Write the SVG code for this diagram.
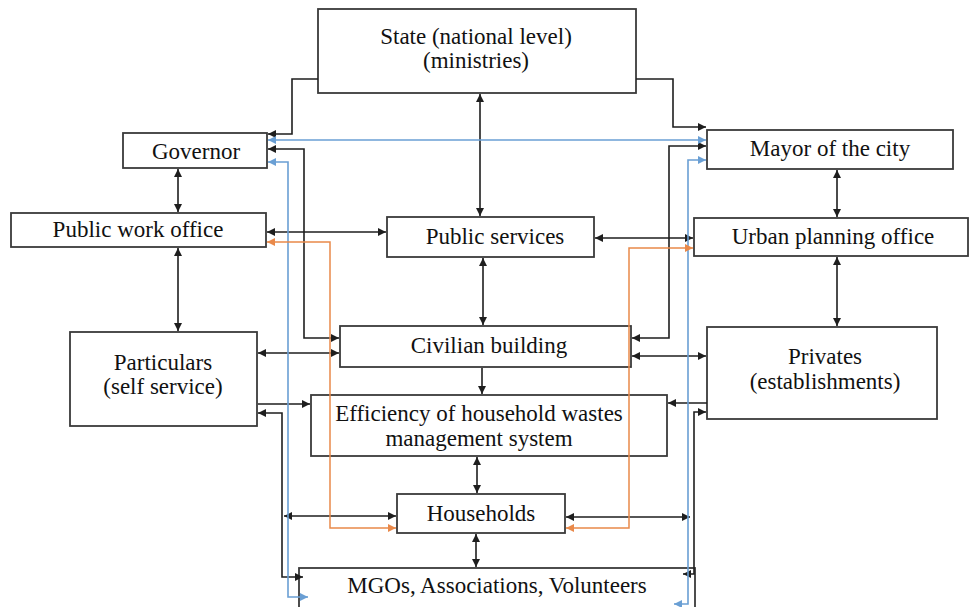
<svg xmlns="http://www.w3.org/2000/svg" width="971" height="607" viewBox="0 0 971 607">
<style>
.box{fill:#fff;stroke:#3a3a3a;stroke-width:1.8}
.t{font-family:"Liberation Serif","Times New Roman",serif;font-size:23px;fill:#111;text-anchor:middle}
.k{fill:none;stroke:#1e1e1e;stroke-width:1.6;marker-start:url(#ak);marker-end:url(#ak)}
.k1{fill:none;stroke:#1e1e1e;stroke-width:1.6;marker-end:url(#ak)}
.b{fill:none;stroke:#6a9fd4;stroke-width:1.6;marker-start:url(#ab);marker-end:url(#ab)}
.o{fill:none;stroke:#e9894a;stroke-width:1.5;marker-start:url(#ao);marker-end:url(#ao)}
</style>
<defs>
<marker id="ak" viewBox="0 0 10 10" refX="10" refY="5" markerWidth="9" markerHeight="8" markerUnits="userSpaceOnUse" orient="auto-start-reverse"><path d="M0,0L10,5L0,10z" fill="#1e1e1e"/></marker>
<marker id="ab" viewBox="0 0 10 10" refX="10" refY="5" markerWidth="9" markerHeight="8" markerUnits="userSpaceOnUse" orient="auto-start-reverse"><path d="M0,0L10,5L0,10z" fill="#6a9fd4"/></marker>
<marker id="ao" viewBox="0 0 10 10" refX="10" refY="5" markerWidth="9" markerHeight="8" markerUnits="userSpaceOnUse" orient="auto-start-reverse"><path d="M0,0L10,5L0,10z" fill="#e9894a"/></marker>
</defs>
<rect width="971" height="607" fill="#fff"/>
<g id="state"><rect class="box" x="318" y="9" width="318" height="84"/><text class="t" x="476" y="44">State (national level)</text><text class="t" x="476" y="68">(ministries)</text></g>
<g id="governor"><rect class="box" x="123" y="133" width="144" height="35"/><text class="t" x="196" y="159">Governor</text></g>
<g id="public-work-office"><rect class="box" x="11" y="213" width="255" height="34"/><text class="t" x="138" y="237">Public work office</text></g>
<g id="particulars"><rect class="box" x="70" y="332" width="187" height="94"/><text class="t" x="163" y="370">Particulars</text><text class="t" x="163" y="394">(self service)</text></g>
<g id="public-services"><rect class="box" x="387" y="217" width="207" height="40"/><text class="t" x="495" y="244">Public services</text></g>
<g id="mayor"><rect class="box" x="707" y="130" width="246" height="39"/><text class="t" x="830" y="156">Mayor of the city</text></g>
<g id="urban-planning-office"><rect class="box" x="694" y="218" width="274" height="38"/><text class="t" x="833" y="244">Urban planning office</text></g>
<g id="civilian-building"><rect class="box" x="340" y="326" width="291" height="41"/><text class="t" x="489" y="353">Civilian building</text></g>
<g id="privates"><rect class="box" x="707" y="327" width="230" height="92"/><text class="t" x="825" y="364">Privates</text><text class="t" x="825" y="389">(establishments)</text></g>
<g id="efficiency"><rect class="box" x="311" y="395" width="356" height="61"/><text class="t" x="479" y="421">Efficiency of household wastes</text><text class="t" x="479" y="446">management system</text></g>
<g id="households"><rect class="box" x="397" y="494" width="168" height="39"/><text class="t" x="481" y="521">Households</text></g>
<g id="mgos"><rect class="box" x="299" y="568" width="396" height="45"/><text class="t" x="497" y="593">MGOs, Associations, Volunteers</text></g>
<g id="connectors">
<path class="k1" d="M318,79H292V134H268"/>
<path class="k1" d="M636,79H673V127H706"/>
<path class="k" d="M178,169V212"/>
<path class="k" d="M178,248V331"/>
<path class="k" d="M267,232H386"/>
<path class="k" d="M480,94V216"/>
<path class="k" d="M339,338H304V149H268"/>
<path class="k" d="M483,258V325"/>
<path class="k" d="M595,238H693"/>
<path class="k" d="M837,170V217"/>
<path class="k" d="M837,257V326"/>
<path class="k" d="M706,146H669V338H632"/>
<path class="k" d="M258,353H339"/>
<path class="k" d="M632,356H706"/>
<path class="k1" d="M482,368V394"/>
<path class="k1" d="M258,404H310"/>
<path class="k" d="M303,577H282V413H258"/>
<path class="k" d="M284,516H396"/>
<path class="k" d="M477,457V493"/>
<path class="k" d="M476,534V567"/>
<path class="k1" d="M707,403H668"/>
<path class="k" d="M706,412H694V574H683"/>
<path class="k" d="M566,517H690"/>
<path class="b" d="M268,140H706"/>
<path class="b" d="M268,162H288V597H308"/>
<path class="b" d="M706,160H688V604H674"/>
<path class="o" d="M267,242H330V528H396"/>
<path class="o" d="M693,248H629V528H566"/>
</g>
</svg>
